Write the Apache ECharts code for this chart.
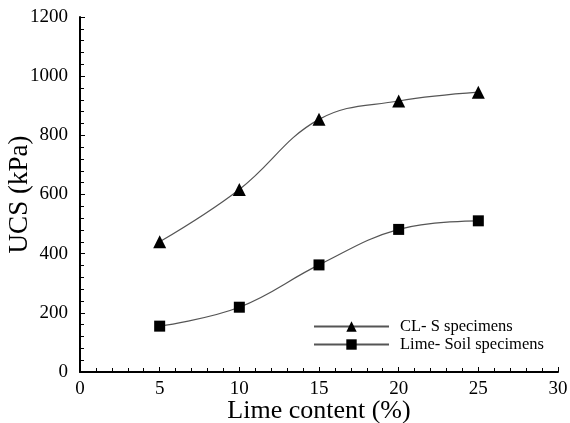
<!DOCTYPE html>
<html>
<head>
<meta charset="utf-8">
<script src="https://cdn.jsdelivr.net/npm/echarts@6/dist/echarts.min.js"></script>
<style>html,body{margin:0;padding:0;background:#fff;}#c{width:570px;height:423px;}</style>
</head>
<body>
<div id="c"></div>
<script>
var limeContent = [5, 10, 15, 20, 25];
var clsValues = [440, 617, 854, 916, 946];
var limeSoilValues = [155, 219, 362, 482, 511];
var seriesNames = ['CL- S specimens', 'Lime- Soil specimens'];

var font = 'Liberation Serif, Times New Roman, serif';
function pairs(xs, ys) { return xs.map(function (x, i) { return [x, ys[i]]; }); }

var chart = echarts.init(document.getElementById('c'));
chart.setOption({
  animation: false,
  backgroundColor: '#fff',
  grid: { left: 80, right: 12, top: 17, bottom: 51, containLabel: false, outerBoundsMode: 'none' },
  legend: {
    orient: 'vertical',
    left: 313,
    top: 318,
    padding: 0,
    itemWidth: 75,
    itemHeight: 13,
    itemGap: 1,
    textStyle: { fontFamily: font, fontSize: 16.5, color: '#000', padding: [0, 0, 0, 6] },
    data: seriesNames
  },
  xAxis: {
    type: 'value', min: 0, max: 30, interval: 5,
    name: 'Lime content (%)', nameLocation: 'middle', nameGap: 26, nameMoveOverlap: false,
    nameTextStyle: { fontFamily: font, fontSize: 26, color: '#000' },
    axisLine: { onZero: false, lineStyle: { color: '#000', width: 2 } },
    axisTick: { inside: true, length: 5, lineStyle: { color: '#000' } },
    minorTick: { show: true, splitNumber: 5, length: 4, lineStyle: { color: '#000' } },
    axisLabel: { fontFamily: font, fontSize: 19, color: '#000', margin: 8,
      formatter: function (v) { return String(v); } },
    splitLine: { show: false }
  },
  yAxis: {
    type: 'value', min: 0, max: 1200, interval: 200,
    name: 'UCS (kPa)', nameLocation: 'middle', nameGap: 47, nameMoveOverlap: false,
    nameTextStyle: { fontFamily: font, fontSize: 27, color: '#000' },
    axisLine: { show: true, onZero: false, lineStyle: { color: '#000', width: 2 } },
    axisTick: { show: true, inside: true, length: 5, lineStyle: { color: '#000' } },
    minorTick: { show: true, splitNumber: 5, length: 4, lineStyle: { color: '#000' } },
    axisLabel: { fontFamily: font, fontSize: 19, color: '#000', margin: 12,
      formatter: function (v) { return String(v); } },
    splitLine: { show: false }
  },
  series: [
    {
      name: seriesNames[0], type: 'line', smooth: 0.4,
      data: pairs(limeContent, clsValues),
      symbol: 'triangle', symbolSize: 13,
      itemStyle: { color: '#000' },
      lineStyle: { color: '#555', width: 1.2 }
    },
    {
      name: seriesNames[1], type: 'line', smooth: 0.4,
      data: pairs(limeContent, limeSoilValues),
      symbol: 'rect', symbolSize: 11,
      itemStyle: { color: '#000' },
      lineStyle: { color: '#555', width: 1.2 }
    }
  ]
});
</script>
</body>
</html>
